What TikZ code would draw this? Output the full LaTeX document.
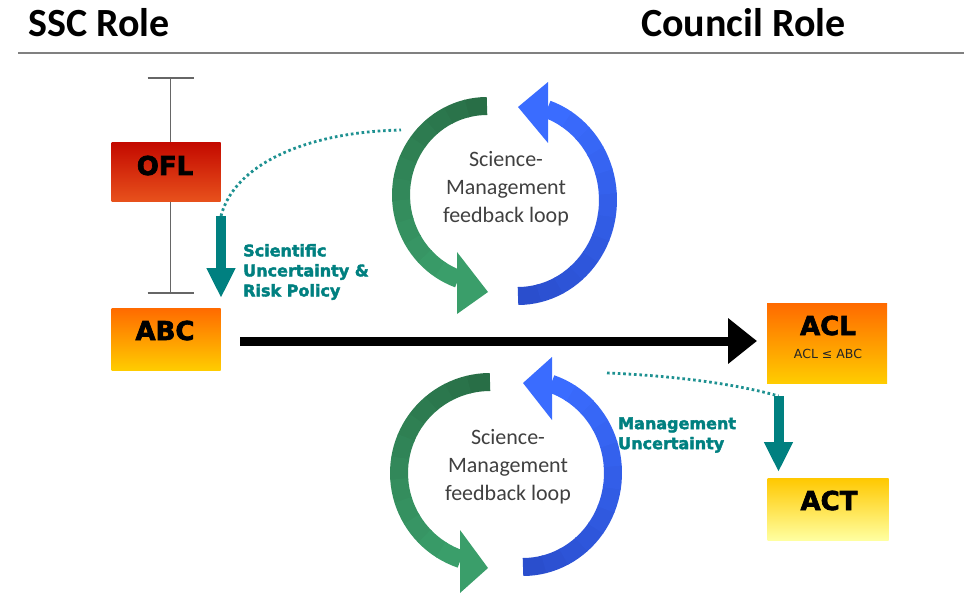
\documentclass[tikz,border=0pt]{standalone}
\usepackage{fontspec}
\setmainfont{Carlito}
\newfontfamily\heavy{DejaVu Sans}[BoldFeatures={FakeBold=2.5}]
\newfontfamily\dvs{DejaVu Sans}
\usetikzlibrary{arrows.meta,calc}
\definecolor{tealA}{RGB}{0,128,128}
\definecolor{tealDot}{RGB}{30,145,145}
\definecolor{gTop}{RGB}{40,110,70}
\definecolor{gBot}{RGB}{58,158,106}
\definecolor{bTop}{RGB}{58,108,255}
\definecolor{bBot}{RGB}{42,78,205}
\definecolor{loopText}{RGB}{64,64,64}
\definecolor{redTop}{RGB}{196,10,0}
\definecolor{redBot}{RGB}{232,82,28}
\definecolor{orTop}{RGB}{255,106,0}
\definecolor{orBot}{RGB}{255,204,0}
\definecolor{yeTop}{RGB}{255,200,0}
\definecolor{yeBot}{RGB}{255,255,160}
\newcommand\loopband[8]{%
  \foreach \i in {0,...,11}{%
    \pgfmathsetmacro\aa{#5+(#6-#5)*\i/12}%
    \pgfmathsetmacro\bb{#5+(#6-#5)*(\i+1)/12-0.6}%
    \pgfmathtruncatemacro\pc{100-100*\i/11}%
    \draw[line width=18pt, draw=#7!\pc!#8] ($(#1,#2)+(\aa:#3 and #4)$) arc[start angle=\aa, end angle=\bb, x radius=#3, y radius=#4];
  }}
\begin{document}
\begin{tikzpicture}[x=1pt,y=-1pt,
  header/.style={font=\bfseries\fontsize{40}{48}\selectfont, anchor=base west, inner sep=0},
  valbox/.style={draw=none, inner sep=0},
  valtxt/.style={font=\heavy\bfseries\fontsize{26}{30}\selectfont, anchor=base, inner sep=0},
  tlabel/.style={font=\heavy\bfseries\fontsize{16}{20}\selectfont, text=tealA, align=left, anchor=west, inner sep=0},
  looptxt/.style={font=\fontsize{22}{28}\selectfont, text=loopText, align=center, inner sep=0},
  tealarrow/.style={draw=tealA, line width=10pt, -{Triangle[width=27pt,length=30pt]}},
  dotline/.style={draw=tealDot, line width=2.8pt, dash pattern=on 2.6pt off 2.8pt},
  errbar/.style={draw=black!60, line width=1.4pt}
]
\useasboundingbox (0,0) rectangle (964,596);

% header
\node[header] (ssc) at (28,37) {SSC Role};
\node[header] (council) at (641,37) {Council Role};
\coordinate (ruleL) at (18,53);
\coordinate (ruleR) at (964,53);
\draw[black!50, line width=2pt] (ruleL) -- (ruleR);

% error bar
\coordinate (ebT) at (170.5,78);
\coordinate (ebB) at (170.5,293);
\draw[errbar] (ebT) -- (ebB);
\draw[errbar] ($(ebT)+(-23,0)$) -- ($(ebT)+(23,0)$);
\draw[errbar] ($(ebB)+(-23,0)$) -- ($(ebB)+(23,0)$);

% value boxes
\node[valbox, minimum width=109pt, minimum height=59pt, top color=redTop, bottom color=redBot] (ofl) at (166,172.5) {};
\node[valtxt] (ofltxt) at (165,175) {OFL};
\node[valbox, minimum width=109pt, minimum height=62pt, top color=orTop, bottom color=orBot] (abc) at (166,339) {};
\node[valtxt] (abctxt) at (165,340) {ABC};
\node[valbox, minimum width=120pt, minimum height=80pt, top color=orTop, bottom color=orBot] (acl) at (827,343) {};
\node[valtxt] (acltxt) at (828,335) {ACL};
\node[font=\dvs\fontsize{12.5}{14}\selectfont, text=black!85, anchor=base, inner sep=0] (aclsub) at (828,358) {ACL ≤ ABC};
\node[valbox, minimum width=121pt, minimum height=62pt, top color=yeTop, bottom color=yeBot] (act) at (828,509) {};
\node[valtxt] (acttxt) at (829,510) {ACT};

% main arrow
\coordinate (mainS) at (240,341);
\coordinate (mainE) at (757,341);
\draw[line width=9pt, -{Triangle[width=44pt,length=29pt]}] (mainS) -- (mainE);

% teal arrows and dotted curves
\coordinate (t1s) at (221,216);
\coordinate (t1e) at (221,298);
\coordinate (d1) at (401,130);
\draw[dotline] (t1s) .. controls (234,165) and (305,132) .. (d1);
\draw[tealarrow] (t1s) -- (t1e);
\coordinate (t2s) at (778.5,396);
\coordinate (t2e) at (778.5,472);
\coordinate (d2) at (607,373);
\draw[dotline] (d2) .. controls (680,376) and (740,385) .. (t2s);
\draw[tealarrow] (t2s) -- (t2e);

\node[tlabel] (sci) at (243,272) {Scientific\\Uncertainty \&\\Risk Policy};
\node[tlabel] (mgmt) at (618,435) {Management\\Uncertainty};

% top loop
\loopband{487}{195}{86}{89}{-90}{-250}{gTop}{gBot}
\fill[gBot] (457,252) -- (488,292) -- (457,314) -- cycle;
\loopband{518}{200}{90}{96}{90}{-70.5}{bBot}{bTop}
\fill[bTop] (548,82) -- (518,107) -- (548,143) -- cycle;
\node[looptxt] (loop1) at (506,189) {Science-\\Management\\feedback loop};

% bottom loop
\loopband{490}{473}{91}{91}{-90}{-250.7}{gTop}{gBot}
\fill[gBot] (460,530) -- (488,568) -- (460,593) -- cycle;
\loopband{523}{473}{90}{94}{90}{-71.2}{bBot}{bTop}
\fill[bTop] (552,357) -- (523,383) -- (552,420) -- cycle;
\node[looptxt] (loop2) at (508,467) {Science-\\Management\\feedback loop};
\end{tikzpicture}
\end{document}
